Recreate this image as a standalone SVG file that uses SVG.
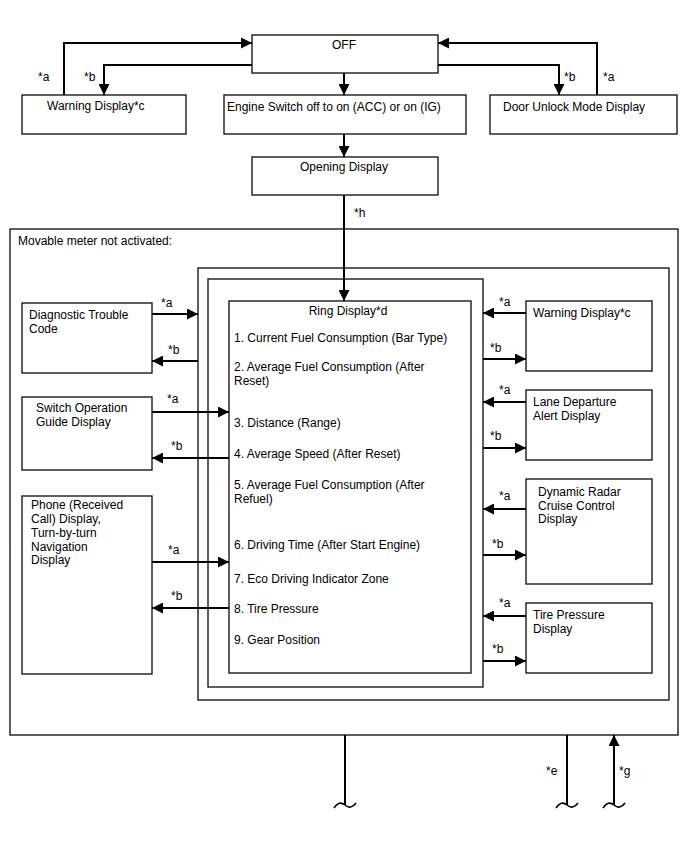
<svg xmlns="http://www.w3.org/2000/svg" width="688" height="852" viewBox="0 0 688 852">
<style>
.box{fill:#fff;stroke:#1a1a1a;stroke-width:1.4}
.frame{fill:none;stroke:#1a1a1a;stroke-width:1.4}
.t{font-family:"Liberation Sans",Arial,sans-serif;font-size:12px;fill:#000}
.c{text-anchor:middle}
.ln{fill:none;stroke:#000;stroke-width:2}
.tl{fill:none;stroke:#000;stroke-width:1.6}
</style>
<defs>
<marker id="ah" markerUnits="userSpaceOnUse" markerWidth="12" markerHeight="11" refX="11" refY="5.5" orient="auto">
<path d="M0,0 L11,5.5 L0,11 z" fill="#000"/>
</marker>
</defs>
<rect width="688" height="852" fill="#fff"/>

<g id="frame-movable">
<rect class="frame" x="10" y="229" width="668" height="506"/>
<text class="t" x="18" y="245">Movable meter not activated:</text>
</g>
<g id="frame-2">
<rect class="frame" x="198" y="268" width="471" height="432"/>
</g>
<g id="frame-3">
<rect class="frame" x="208" y="279" width="275" height="408"/>
</g>

<g id="off">
<rect class="box" x="252" y="35" width="186" height="38"/>
<text class="t c" x="344" y="49">OFF</text>
</g>
<g id="warning-top">
<rect class="box" x="22" y="95" width="164" height="39"/>
<text class="t" x="47" y="110">Warning Display*c</text>
</g>
<g id="engine-switch">
<rect class="box" x="224" y="95" width="242" height="39"/>
<text class="t" x="227" y="111">Engine Switch off to on (ACC) or on (IG)</text>
</g>
<g id="door-unlock">
<rect class="box" x="490" y="95" width="187" height="39"/>
<text class="t" x="503" y="111">Door Unlock Mode Display</text>
</g>
<g id="opening">
<rect class="box" x="252" y="157" width="186" height="38"/>
<text class="t c" x="344" y="171">Opening Display</text>
</g>

<g id="ring-display">
<rect class="box" x="229" y="301" width="242" height="372"/>
<text class="t c" x="348" y="315">Ring Display*d</text>
<text class="t" x="234" y="342">1. Current Fuel Consumption (Bar Type)</text>
<text class="t" x="234" y="371">2. Average Fuel Consumption (After</text>
<text class="t" x="234" y="385">Reset)</text>
<text class="t" x="234" y="427">3. Distance (Range)</text>
<text class="t" x="234" y="458">4. Average Speed (After Reset)</text>
<text class="t" x="234" y="489">5. Average Fuel Consumption (After</text>
<text class="t" x="234" y="503">Refuel)</text>
<text class="t" x="234" y="549">6. Driving Time (After Start Engine)</text>
<text class="t" x="234" y="583">7. Eco Driving Indicator Zone</text>
<text class="t" x="234" y="613">8. Tire Pressure</text>
<text class="t" x="234" y="644">9. Gear Position</text>
</g>

<g id="dtc">
<rect class="box" x="22" y="303" width="130" height="70"/>
<text class="t" x="29" y="319">Diagnostic Trouble</text>
<text class="t" x="29" y="333">Code</text>
</g>
<g id="switch-guide">
<rect class="box" x="22" y="397" width="130" height="73"/>
<text class="t" x="36" y="412">Switch Operation</text>
<text class="t" x="36" y="426">Guide Display</text>
</g>
<g id="phone-nav">
<rect class="box" x="22" y="496" width="130" height="178"/>
<text class="t" x="31" y="509">Phone (Received</text>
<text class="t" x="31" y="523">Call) Display,</text>
<text class="t" x="31" y="537">Turn-by-turn</text>
<text class="t" x="31" y="551">Navigation</text>
<text class="t" x="31" y="564">Display</text>
</g>

<g id="warning-right">
<rect class="box" x="526" y="301" width="126" height="70"/>
<text class="t" x="533" y="317">Warning Display*c</text>
</g>
<g id="lane-departure">
<rect class="box" x="526" y="390" width="126" height="70"/>
<text class="t" x="533" y="406">Lane Departure</text>
<text class="t" x="533" y="420">Alert Display</text>
</g>
<g id="radar-cruise">
<rect class="box" x="526" y="479" width="126" height="105"/>
<text class="t" x="538" y="496">Dynamic Radar</text>
<text class="t" x="538" y="510">Cruise Control</text>
<text class="t" x="538" y="523">Display</text>
</g>
<g id="tire-pressure">
<rect class="box" x="526" y="603" width="126" height="70"/>
<text class="t" x="533" y="619">Tire Pressure</text>
<text class="t" x="533" y="633">Display</text>
</g>

<g id="connectors">
<!-- top -->
<path class="ln" d="M64,95 V43 H252" marker-end="url(#ah)"/>
<path class="ln" d="M252,65 H104 V95" marker-end="url(#ah)"/>
<path class="ln" d="M344,73 V95" marker-end="url(#ah)"/>
<path class="ln" d="M438,65 H559 V95" marker-end="url(#ah)"/>
<path class="ln" d="M597,95 V43 H438" marker-end="url(#ah)"/>
<path class="ln" d="M344,134 V157" marker-end="url(#ah)"/>
<path class="ln" d="M344,195 V301" marker-end="url(#ah)"/>
<!-- left -->
<path class="ln" d="M152,314 H198" marker-end="url(#ah)"/>
<path class="ln" d="M198,361 H152" marker-end="url(#ah)"/>
<path class="ln" d="M152,412 H229" marker-end="url(#ah)"/>
<path class="ln" d="M229,458 H152" marker-end="url(#ah)"/>
<path class="ln" d="M152,562 H229" marker-end="url(#ah)"/>
<path class="ln" d="M229,608 H152" marker-end="url(#ah)"/>
<!-- right -->
<path class="ln" d="M526,313 H483" marker-end="url(#ah)"/>
<path class="ln" d="M483,359 H526" marker-end="url(#ah)"/>
<path class="ln" d="M526,402 H483" marker-end="url(#ah)"/>
<path class="ln" d="M483,448 H526" marker-end="url(#ah)"/>
<path class="ln" d="M526,509 H483" marker-end="url(#ah)"/>
<path class="ln" d="M483,555 H526" marker-end="url(#ah)"/>
<path class="ln" d="M526,616 H483" marker-end="url(#ah)"/>
<path class="ln" d="M483,661 H526" marker-end="url(#ah)"/>
<!-- bottom -->
<path class="ln" d="M345,735 V805"/>
<path class="ln" d="M567,735 V805"/>
<path class="ln" d="M614,805 V735" marker-end="url(#ah)"/>
<path class="tl" d="M334,808 Q339,800 345,805 Q351,810 356,803"/>
<path class="tl" d="M556,808 Q561,800 567,805 Q573,810 578,803"/>
<path class="tl" d="M603,808 Q608,800 614,805 Q620,810 625,803"/>
<!-- labels -->
<text class="t" x="38" y="81">*a</text>
<text class="t" x="84" y="81">*b</text>
<text class="t" x="564" y="81">*b</text>
<text class="t" x="603" y="81">*a</text>
<text class="t" x="354" y="217">*h</text>
<text class="t" x="161" y="307">*a</text>
<text class="t" x="168" y="354">*b</text>
<text class="t" x="167" y="403">*a</text>
<text class="t" x="171" y="450">*b</text>
<text class="t" x="168" y="554">*a</text>
<text class="t" x="171" y="600">*b</text>
<text class="t" x="499" y="306">*a</text>
<text class="t" x="490" y="352">*b</text>
<text class="t" x="499" y="394">*a</text>
<text class="t" x="490" y="440">*b</text>
<text class="t" x="499" y="500">*a</text>
<text class="t" x="492" y="548">*b</text>
<text class="t" x="499" y="607">*a</text>
<text class="t" x="492" y="653">*b</text>
<text class="t" x="546" y="775">*e</text>
<text class="t" x="619" y="775">*g</text>
</g>
</svg>
